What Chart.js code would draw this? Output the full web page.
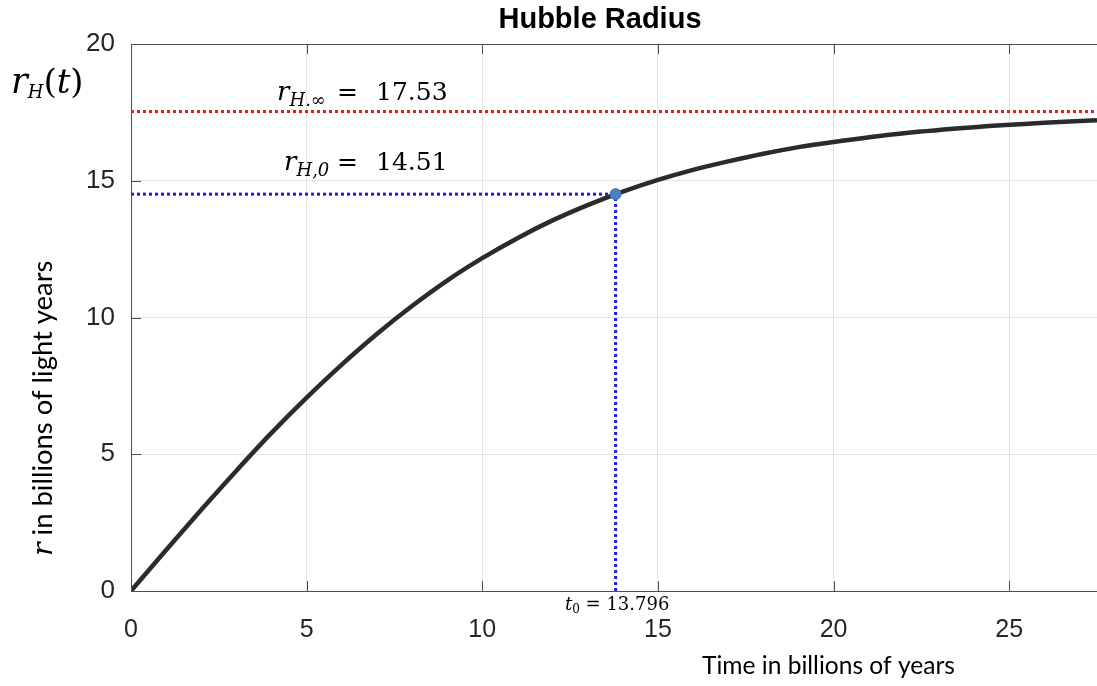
<!DOCTYPE html>
<html>
<head>
<meta charset="utf-8">
<script src="https://cdn.jsdelivr.net/npm/chart.js@4"></script>
<style>
  body { margin: 0; background: #fff; }
</style>
</head>
<body>
<canvas id="chart" width="1097" height="686"></canvas>
<script>
// values (billions of years / billions of light years)
const timeGyr = [0, 1, 2, 3, 4, 5, 6, 7, 8, 9, 10, 11, 12, 13, 14, 15, 16, 17, 18, 19, 20, 22, 24, 26, 27.5];
const radiusGly = [0, 1.50, 2.97, 4.40, 5.78, 7.07, 8.28, 9.40, 10.42, 11.35, 12.17, 12.90, 13.55, 14.11, 14.60, 15.03, 15.40, 15.71, 15.99, 16.23, 16.42, 16.74, 16.96, 17.12, 17.21];
const rInf = 17.53;
const rNow = 14.51;
const tNow = 13.796;
const xMax = 27.5;
const xTicks = [0, 5, 10, 15, 20, 25];
const yTicks = [0, 5, 10, 15, 20];

const curve = timeGyr.map((t, i) => ({ x: t, y: radiusGly[i] }));

const serif = '"DejaVu Serif", "Liberation Serif", serif';
const sans = 'Lato, "Open Sans", sans-serif';

// text made of several runs (for subscripts / italics)
function drawRuns(ctx, x, y, runs) {
  runs.forEach(([txt, font, dy]) => {
    ctx.font = font;
    ctx.fillText(txt, x, y + (dy || 0));
    x += ctx.measureText(txt).width;
  });
}

// font size so that text takes the given width
function fitSize(ctx, txt, family, width) {
  ctx.font = '20px ' + family;
  return 20 * width / ctx.measureText(txt).width;
}

function drawValueLabel(ctx, x, y, sub, value) {
  drawRuns(ctx, x, y, [
    ['r', 'italic 26px ' + serif],
    [sub, 'italic 18px ' + serif, 6]
  ]);
  ctx.font = '25px ' + serif;
  ctx.fillText('=', 337, y);
  ctx.fillText(value, 376, y);
}

const decorations = {
  id: 'decorations',
  afterDraw(chart) {
    const ctx = chart.ctx;
    const area = chart.chartArea;
    const xs = chart.scales.x, ys = chart.scales.y;
    ctx.save();

    // box top line + inward ticks (matlab style)
    ctx.strokeStyle = '#4d4d4d';
    ctx.lineWidth = 1;
    ctx.beginPath();
    ctx.moveTo(area.left, area.top + 0.5);
    ctx.lineTo(area.right, area.top + 0.5);
    xTicks.forEach(v => {
      const px = Math.round(xs.getPixelForValue(v)) + 0.5;
      ctx.moveTo(px, area.bottom); ctx.lineTo(px, area.bottom - 10);
      ctx.moveTo(px, area.top); ctx.lineTo(px, area.top + 10);
    });
    yTicks.forEach(v => {
      const py = Math.round(ys.getPixelForValue(v)) + 0.5;
      ctx.moveTo(area.left, py); ctx.lineTo(area.left + 10, py);
    });
    ctx.stroke();

    ctx.fillStyle = '#000';
    ctx.textBaseline = 'alphabetic';

    // title
    ctx.textAlign = 'center';
    ctx.font = 'bold 29px "Liberation Sans", Arial, sans-serif';
    ctx.fillText('Hubble Radius', 600, 28);

    ctx.textAlign = 'left';
    drawRuns(ctx, 11, 93, [
      ['r', 'italic 35px ' + serif],
      ['H', 'italic 18px ' + serif, 5],
      ['(', '34px ' + serif],
      ['t', 'italic 34px ' + serif],
      [')', '34px ' + serif]
    ]);
    drawValueLabel(ctx, 277, 100, 'H.∞', rInf.toFixed(2));
    drawValueLabel(ctx, 284, 170, 'H,0', rNow.toFixed(2));
    drawRuns(ctx, 565, 610, [
      ['t', 'italic 18px ' + serif],
      ['0', '12px ' + serif, 3],
      [' = 13.796', '18px ' + serif]
    ]);

    // axis titles
    const xTitle = 'Time in billions of years';
    ctx.font = fitSize(ctx, xTitle, sans, 253) + 'px ' + sans;
    ctx.fillText(xTitle, 702, 674);

    const yTitle = ' in billions of light years';
    const ySize = fitSize(ctx, yTitle, sans, 282);
    ctx.translate(52, 556);
    ctx.rotate(-Math.PI / 2);
    drawRuns(ctx, 0, 0, [
      ['r', 'italic ' + (ySize + 1) + 'px ' + serif],
      [yTitle, ySize + 'px ' + sans]
    ]);
    ctx.restore();
  }
};

new Chart(document.getElementById('chart'), {
  type: 'scatter',
  data: {
    datasets: [
      {
        label: 'r_H(t)',
        data: curve,
        showLine: true,
        borderColor: '#2b2b2b',
        borderWidth: 4.5,
        pointRadius: 0,
        cubicInterpolationMode: 'monotone',
        order: 2
      },
      {
        label: 'r_H,inf',
        data: [{ x: 0, y: rInf }, { x: xMax, y: rInf }],
        showLine: true,
        borderColor: '#e41a1c',
        borderWidth: 3,
        borderDash: [3, 3],
        pointRadius: 0,
        order: 3
      },
      {
        label: 'r_H,0',
        data: [{ x: 0, y: rNow }, { x: tNow, y: rNow }],
        showLine: true,
        borderColor: '#1f1fd6',
        borderWidth: 3,
        borderDash: [3, 3],
        pointRadius: 0,
        order: 3
      },
      {
        label: 't0',
        data: [{ x: tNow, y: 0 }, { x: tNow, y: rNow }],
        showLine: true,
        borderColor: '#1f1fd6',
        borderWidth: 3,
        borderDash: [3, 3],
        pointRadius: 0,
        order: 3
      },
      {
        label: 'now',
        data: [{ x: tNow, y: rNow }],
        pointRadius: 5.5,
        backgroundColor: '#4a82c0',
        borderColor: '#3a6ea8',
        borderWidth: 1,
        order: 1
      }
    ]
  },
  options: {
    responsive: false,
    animation: false,
    layout: { autoPadding: false, padding: { top: 44, right: 0, left: 0, bottom: 0 } },
    plugins: { legend: { display: false }, tooltip: { enabled: false } },
    scales: {
      x: {
        type: 'linear',
        min: 0,
        max: xMax,
        afterBuildTicks: s => { s.ticks = xTicks.map(v => ({ value: v })); },
        afterFit: s => { s.height = 95; },
        ticks: {
          autoSkip: false,
          color: '#262626',
          padding: 24,
          font: { family: '"Liberation Sans", Arial, sans-serif', size: 25 }
        },
        grid: { color: '#e3e3e3', drawTicks: false },
        border: { color: '#4d4d4d' }
      },
      y: {
        min: 0,
        max: 20,
        afterFit: s => { s.width = 131; },
        ticks: {
          stepSize: 5,
          color: '#262626',
          padding: 16,
          font: { family: '"Liberation Sans", Arial, sans-serif', size: 26 }
        },
        grid: { color: '#e3e3e3', drawTicks: false },
        border: { color: '#4d4d4d' }
      }
    }
  },
  plugins: [decorations]
});
</script>
</body>
</html>
